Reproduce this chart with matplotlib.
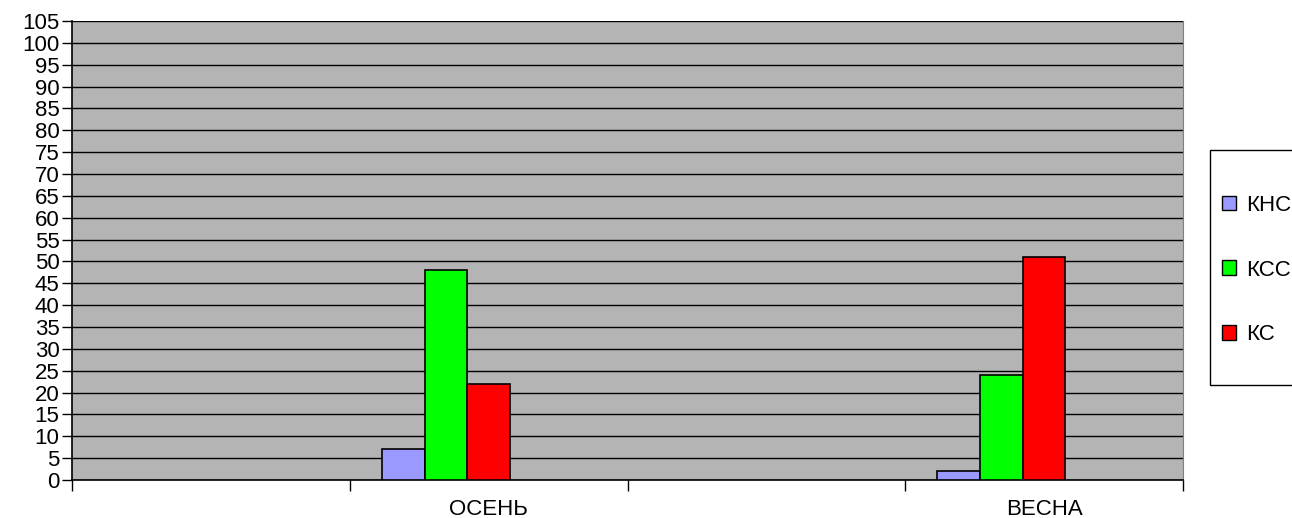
import numpy as np
import matplotlib
matplotlib.use("Agg")
import matplotlib.pyplot as plt
from matplotlib.patches import Patch, Rectangle

categories = ["", "ОСЕНЬ", "", "ВЕСНА"]
series_names = ["КНС", "КСС", "КС"]
knc = [np.nan, 7, np.nan, 2]
kcc = [np.nan, 48, np.nan, 24]
kc = [np.nan, 22, np.nan, 51]
series_values = [knc, kcc, kc]
colors = ["#9999FF", "#00FF00", "#FF0000"]
y_ticks = list(range(0, 106, 5))

plt.rcParams['font.family'] = ['Liberation Sans', 'DejaVu Sans']
FS = 16

W, H = 1292, 518
fig = plt.figure(figsize=(W / 100, H / 100), dpi=100)
ax = fig.add_axes([72 / W, (H - 480) / H, (1183 - 72) / W, (480 - 21) / H])
ax.set_facecolor("#B4B4B4")

n_slots = 5
gap = 1.5
w = 1.0 / (n_slots + gap)
x = np.arange(len(categories))
for j, (vals, c) in enumerate(zip(series_values, colors)):
    pos = x + gap / 2 * w + j * w
    ax.bar(pos, vals, width=w, align="edge", color=c, edgecolor="black",
           linewidth=1.2, zorder=3)

ax.set_xlim(0, len(categories))
ax.set_ylim(0, 105)
ax.set_yticks(y_ticks)
ax.set_yticklabels([str(v) for v in y_ticks], fontsize=FS)
ax.yaxis.grid(True, color="black", linewidth=1.0, zorder=1)
ax.set_axisbelow(True)

ax.set_xticks(x + 0.5)
ax.set_xticklabels(categories, fontsize=FS)
ax.tick_params(axis="x", which="major", length=0, pad=14)
ax.set_xticks(np.arange(len(categories) + 1), minor=True)
ax.tick_params(axis="x", which="minor", length=8, width=1, direction="out", color="black")
ax.tick_params(axis="y", length=7, width=1, direction="out", pad=2)

ax.spines["top"].set_visible(False)
ax.spines["right"].set_color("#808080")
ax.spines["left"].set_linewidth(1.2)
ax.spines["bottom"].set_linewidth(1.2)

# legend frame
fig.patches.append(Rectangle((1210 / W, 1 - 385 / H), 100 / W, 235 / H,
                             transform=fig.transFigure, facecolor="white",
                             edgecolor="black", linewidth=1, clip_on=False))

handles = [Patch(facecolor=c, edgecolor="black", linewidth=1) for c in colors]
leg = fig.legend(handles, series_names, loc="upper left",
                 bbox_to_anchor=(1222 / W, 1 - 195 / H), fontsize=FS,
                 frameon=False, handlelength=0.65, handleheight=0.63,
                 handletextpad=0.42, labelspacing=1.96, borderpad=0,
                 borderaxespad=0)

fig.savefig("out.png", dpi=100)
